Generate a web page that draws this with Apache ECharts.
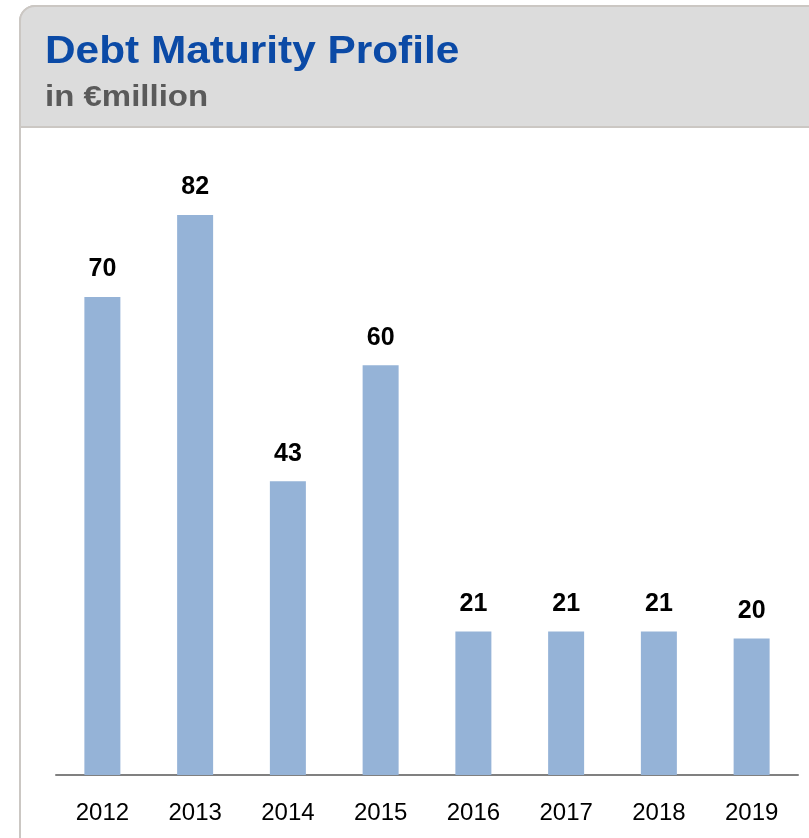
<!DOCTYPE html>
<html>
<head>
<meta charset="utf-8">
<script src="https://cdn.jsdelivr.net/npm/echarts@6/dist/echarts.min.js"></script>
<style>
html,body{margin:0;padding:0;background:#fff;}
#c{width:809px;height:838px;}
</style>
</head>
<body>
<div id="c"></div>
<script>
const years = ['2012','2013','2014','2015','2016','2017','2018','2019'];
const maturities = [70, 82, 43, 60, 21, 21, 21, 20];
const titleText = 'Debt Maturity Profile';
const subtitleText = 'in \u20ACmillion';

const chart = echarts.init(document.getElementById('c'));
chart.setOption({
  animation: false,
  backgroundColor: '#ffffff',
  graphic: [
    {type:'rect', z:0, shape:{x:20, y:6, width:820, height:900, r:[15,0,0,0]},
     style:{fill:'#ffffff', stroke:'#cbc7c3', lineWidth:2}},
    {type:'rect', z:1, shape:{x:20, y:6, width:820, height:121, r:[15,0,0,0]},
     style:{fill:'#dcdcdc', stroke:'#cbc7c3', lineWidth:2}},
    {type:'text', z:2, x:45, y:34, scaleX:1.115,
     style:{text:titleText, x:0, y:0, verticalAlign:'top', fill:'#0b4aa6', font:'bold 38px "Liberation Sans", Arial, sans-serif'}},
    {type:'text', z:2, x:45, y:83, scaleX:1.1,
     style:{text:subtitleText, x:0, y:0, verticalAlign:'top', fill:'#5a5a5a', font:'bold 30px "Liberation Sans", Arial, sans-serif'}}
  ],
  grid: {left:56, right:11, top:92, bottom:63},
  xAxis: {
    type:'category', data: years,
    axisLine:{lineStyle:{color:'#808080', width:2}},
    axisTick:{show:false},
    axisLabel:{color:'#000', fontSize:24, fontFamily:'"Liberation Sans", Arial, sans-serif', margin:26}
  },
  yAxis: {type:'value', min:0, max:100, show:false, splitLine:{show:false}},
  series: [{
    type:'bar', data: maturities, barWidth:36,
    itemStyle:{color:'#95b3d7'},
    label:{show:true, position:'top', distance:15, color:'#000', fontSize:25, fontWeight:'bold',
           fontFamily:'"Liberation Sans", Arial, sans-serif'}
  }]
});
</script>
</body>
</html>
